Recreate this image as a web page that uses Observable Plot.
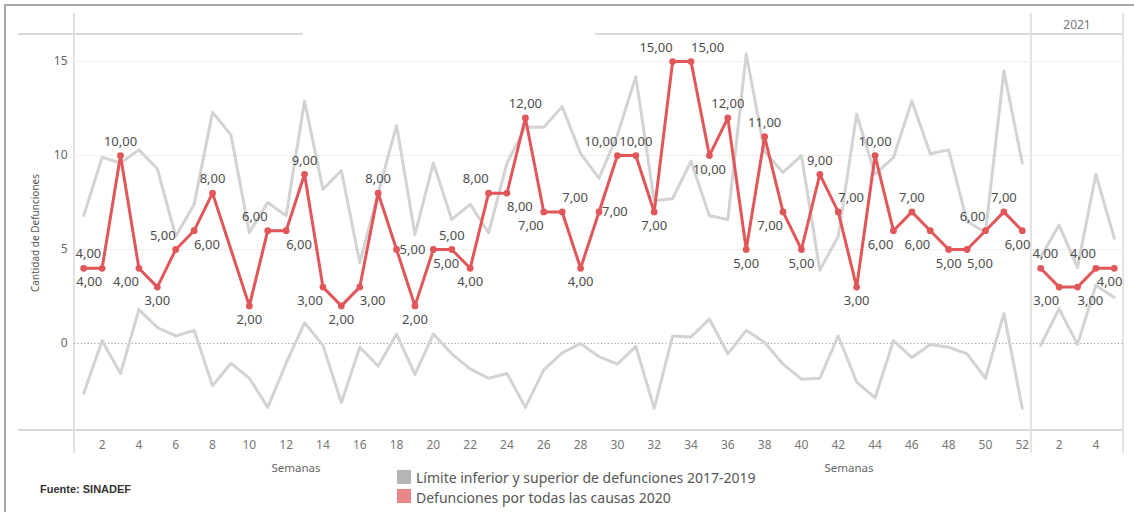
<!DOCTYPE html>
<html>
<head>
<meta charset="utf-8">
<script src="https://cdn.jsdelivr.net/npm/d3@7"></script>
<script src="https://cdn.jsdelivr.net/npm/@observablehq/plot@0.6"></script>
<style>
  body { margin: 0; background: #fff; }
  #wrap { position: relative; width: 1134px; height: 515px; overflow: hidden; font-family: "Noto Sans", sans-serif; }
  #chart { position: absolute; left: 0; top: 0; }
  .abs { position: absolute; white-space: nowrap; }
  .c { transform: translate(-50%, -50%); }
  .border-top { position: absolute; left: 4px; top: 4px; width: 1140px; height: 2px; background: #a8a8a8; }
  .border-left { position: absolute; left: 4px; top: 4px; width: 2px; height: 508px; background: #a8a8a8; }
  .sw { position: absolute; width: 14px; height: 14px; }
  .leg { position: absolute; font-size: 14px; color: #555; transform: translateY(-50%); white-space: nowrap; }
</style>
</head>
<body>
<div id="wrap">
  <div id="chart"></div>
  <div class="border-top"></div>
  <div class="border-left"></div>
  <div class="abs c" style="left:1077px; top:24px; font-size:12px; color:#777;">2021</div>
  <div class="abs" style="left:35px; top:233px; font-size:10px; color:#555; transform: translate(-50%,-50%) rotate(-90deg);">Cantidad de Defunciones</div>
  <div class="abs c" style="left:296px; top:467px; font-size:11.5px; color:#666;">Semanas</div>
  <div class="abs c" style="left:849px; top:467px; font-size:11.5px; color:#666;">Semanas</div>
  <div class="abs" style="left:40px; top:489px; transform: translateY(-50%); font-family:'Liberation Sans', Arial, sans-serif; font-size:11px; font-weight:bold; color:#333;">Fuente: SINADEF</div>
  <div class="sw" style="left:397px; top:470px; background:#b5b5b5;"></div>
  <div class="leg" style="left:416px; top:477px;">Límite inferior y superior de defunciones 2017-2019</div>
  <div class="sw" style="left:397px; top:489px; background:#e9888b;"></div>
  <div class="leg" style="left:416px; top:497px;">Defunciones por todas las causas 2020</div>
</div>
<script>
// ---------------- DATA ----------------
const weeks2020 = [1,2,3,4,5,6,7,8,9,10,11,12,13,14,15,16,17,18,19,20,21,22,23,24,25,26,
                   27,28,29,30,31,32,33,34,35,36,37,38,39,40,41,42,43,44,45,46,47,48,49,50,51,52];
const deaths2020 = [4,4,10,4,3,5,6,8,null,2,6,6,9,3,2,3,8,5,2,5,5,4,8,8,12,7,
                    7,4,7,10,10,7,15,15,10,12,5,11,7,5,9,7,3,10,6,7,6,5,5,6,7,6];
const upper2020 = [6.8,9.9,9.6,10.3,9.3,5.7,7.4,12.3,11.1,5.9,7.5,6.8,12.9,8.2,9.2,4.3,8.0,11.6,5.8,9.6,
                   6.6,7.4,5.9,9.6,11.5,11.5,12.6,10.1,8.8,11.1,14.2,7.6,7.7,9.7,6.8,6.6,15.4,10.2,9.1,10.0,
                   3.9,5.7,12.2,9.0,9.9,12.9,10.1,10.3,6.5,5.9,14.5,9.6];
const lower2020 = [-2.65,0.15,-1.6,1.8,0.85,0.4,0.7,-2.25,-1.05,-1.85,-3.4,-1.05,1.1,-0.1,-3.15,-0.2,-1.2,0.5,-1.65,0.5,
                   -0.55,-1.35,-1.85,-1.6,-3.4,-1.4,-0.5,0.0,-0.7,-1.1,-0.15,-3.45,0.4,0.35,1.3,-0.55,0.7,0.05,-1.1,-1.9,
                   -1.85,0.4,-2.05,-2.9,0.15,-0.75,-0.05,-0.2,-0.55,-1.85,1.6,-3.45];

const weeks2021 = [1,2,3,4,5];
const deaths2021 = [4,3,3,4,4];
const upper2021 = [4.6,6.3,4.05,9.0,5.6];
const lower2021 = [-0.1,1.85,-0.05,3.1,2.45];

const yTicks = [0,5,10,15];
const xTickWeeks2020 = [2,4,6,8,10,12,14,16,18,20,22,24,26,28,30,32,34,36,38,40,42,44,46,48,50,52];
const xTickWeeks2021 = [2,4];

// label placement (style): t top, b bottom, tl/tr/bl/br diagonal, r right, "<"/">" pinned to pane edge
const labelPos2020 = ["t<","bl","t","bl","b","tl","br","t",null,"b","tl","br","t","bl","b","br","t","r","b","br",
                      "t","b","tl","br","t","bl","tr","b","r","tl","t","b","tl","tr","b","t","b","t","bl","b",
                      "t","tr","b","t","bl","t","bl","b","br","tl","t","b>"];
const labelPos2021 = ["t<","bl","br","tl","b>"];

// ---------------- BUILD ----------------
const N2020 = weeks2020.length;            // 52 weeks in the 2020 pane
const X_DOMAIN = [0.5, N2020 + weeks2021.length + 0.5];
const Y_DOMAIN = [-4.63, 16.44];
const paneOf = {2020: [0.5, N2020 + 0.5], 2021: [N2020 + 0.5, X_DOMAIN[1]]};

const rows = [];
weeks2020.forEach((w, i) => rows.push({pos: w, year: 2020, deaths: deaths2020[i], upper: upper2020[i], lower: lower2020[i], lab: labelPos2020[i]}));
weeks2021.forEach((w, i) => rows.push({pos: N2020 + w, year: 2021, deaths: deaths2021[i], upper: upper2021[i], lower: lower2021[i], lab: labelPos2021[i]}));

const bounds = rows.flatMap(r => [
  {pos: r.pos, v: r.upper, key: "u" + r.year},
  {pos: r.pos, v: r.lower, key: "l" + r.year}
]);
const red = rows.filter(r => r.deaths != null);
const fmt = v => v.toFixed(2).replace(".", ",");

const labels = red.map(r => {
  const code = r.lab;
  let x = r.pos;
  if (code.endsWith("<")) x = paneOf[r.year][0];
  if (code.endsWith(">")) x = paneOf[r.year][1];
  return {x, y: r.deaths, text: fmt(r.deaths), code};
});

const LS = {
  "t":  {dx: 0, dy: -14, textAnchor: "middle"},
  "b":  {dx: 0, dy: 14, textAnchor: "middle"},
  "tl": {dx: 0, dy: -14, textAnchor: "end"},
  "tr": {dx: 0, dy: -14, textAnchor: "start"},
  "bl": {dx: 0, dy: 14, textAnchor: "end"},
  "br": {dx: 0, dy: 14, textAnchor: "start"},
  "r":  {dx: 3, dy: 0, textAnchor: "start"},
  "t<": {dx: 1, dy: -14, textAnchor: "start"},
  "b>": {dx: -1, dy: 14, textAnchor: "end"}
};

const textMarks = Object.entries(LS).map(([code, s]) =>
  Plot.text(labels.filter(d => d.code === code), {
    x: "x", y: "y", text: "text", dx: s.dx, dy: s.dy, textAnchor: s.textAnchor,
    fill: "#4d4d4d", fontSize: 13
  })
);

const xTickPos = [...xTickWeeks2020, ...xTickWeeks2021.map(w => N2020 + w)];
const xTickLab = [...xTickWeeks2020, ...xTickWeeks2021];
const tickLabel = new Map(xTickPos.map((p, i) => [p, String(xTickLab[i])]));

const chart = Plot.plot({
  width: 1134,
  height: 462,
  marginLeft: 74,
  marginRight: 11,
  marginTop: 34,
  marginBottom: 32,
  style: {fontFamily: "Noto Sans, sans-serif", fontSize: "12px", background: "transparent", overflow: "visible"},
  x: {domain: X_DOMAIN},
  y: {domain: Y_DOMAIN},
  marks: [
    Plot.ruleY(yTicks.filter(d => d !== 0), {stroke: "#eeeeee", strokeWidth: 1}),
    Plot.ruleY([0], {stroke: "#9a9a9a", strokeWidth: 1, strokeDasharray: "1.2,2.2"}),
    Plot.line(bounds, {x: "pos", y: "v", z: "key", stroke: "#d3d3d3", strokeWidth: 3}),
    Plot.line(red, {x: "pos", y: "deaths", z: "year", stroke: "#e15759", strokeWidth: 3}),
    Plot.dot(red, {x: "pos", y: "deaths", r: 3.4, fill: "#e15759"}),
    ...textMarks,
    Plot.axisY(yTicks, {tickSize: 0, tickPadding: 7, fontSize: 12, color: "#666", label: null}),
    Plot.axisX(xTickPos, {tickSize: 0, tickPadding: 10, fontSize: 12, color: "#777", label: null,
                          tickFormat: d => tickLabel.get(d)})
  ]
});
document.getElementById("chart").appendChild(chart);

// pane decoration (header line, bottom line, pane dividers) positioned through the chart's scales
const xs = chart.scale("x"), ys = chart.scale("y");
const svg = d3.select(chart);
const g = svg.insert("g", "g").attr("stroke", "#dadada").attr("fill", "none");
const xL = xs.apply(X_DOMAIN[0]), xM = xs.apply(paneOf[2021][0]), xR = xs.apply(X_DOMAIN[1]);
const yT = ys.apply(Y_DOMAIN[1]), yB = ys.apply(Y_DOMAIN[0]);
[xL, xM, xR].forEach(x => g.append("line").attr("x1", x).attr("x2", x).attr("y1", 13).attr("y2", 453).attr("stroke-width", 1.5));
g.append("line").attr("x1", 18).attr("x2", 303).attr("y1", yT).attr("y2", yT).attr("stroke-width", 2);
g.append("line").attr("x1", 595).attr("x2", xR).attr("y1", yT).attr("y2", yT).attr("stroke-width", 2);
g.append("line").attr("x1", 18).attr("x2", xR).attr("y1", yB).attr("y2", yB).attr("stroke-width", 2);
</script>
</body>
</html>
